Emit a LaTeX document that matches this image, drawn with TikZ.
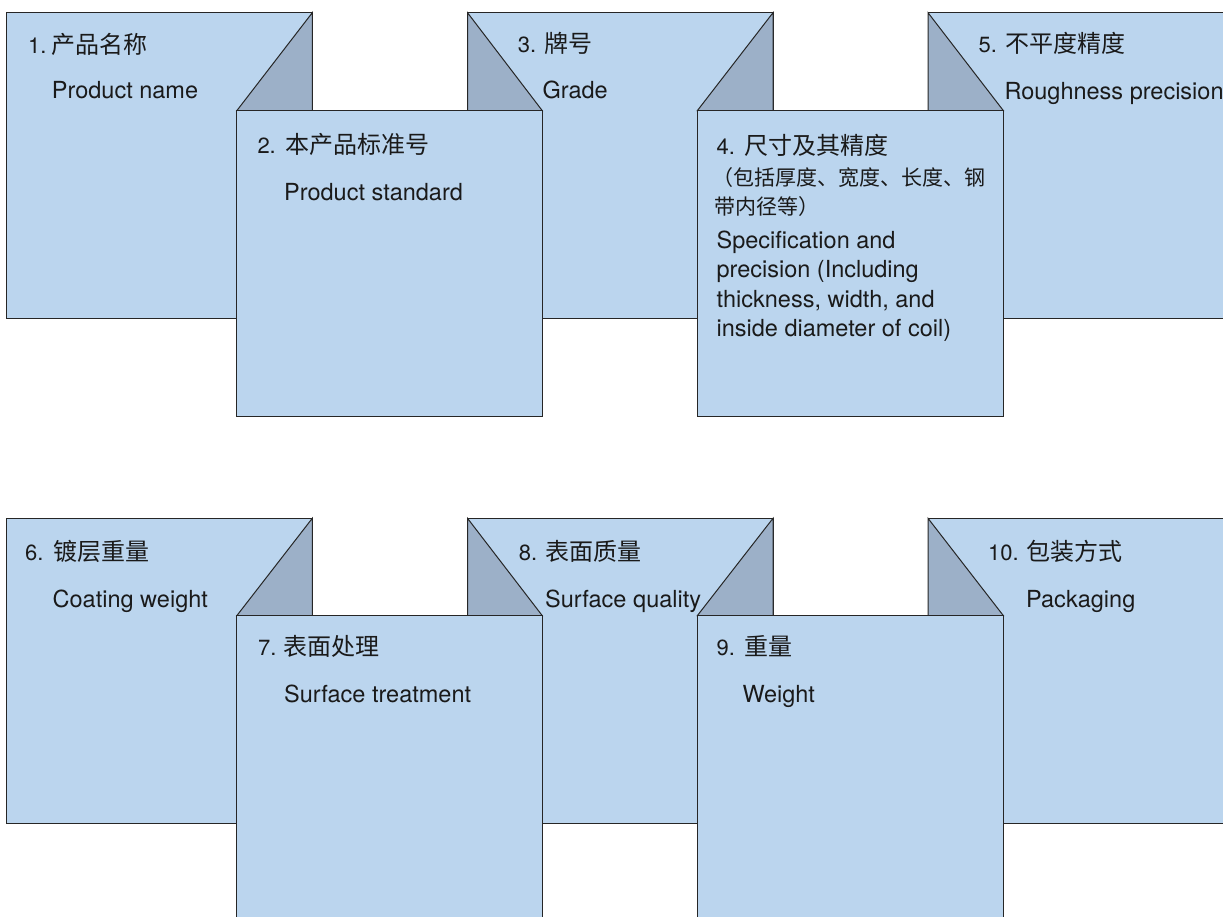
\documentclass[tikz,border=0pt]{standalone}
\usepackage{fontspec}
\setmainfont{TeX Gyre Heros}
\newfontfamily\cjk{Noto Sans CJK SC}
\definecolor{boxfill}{HTML}{BBD5EE}
\definecolor{foldfill}{HTML}{9CB0C8}
\definecolor{edge}{HTML}{262626}
\definecolor{ink}{HTML}{1A1A1A}
\begin{document}
\begin{tikzpicture}[x=1pt,y=-1pt,
  panel/.style={fill=boxfill,draw=edge,line width=1pt},
  fold/.style={fill=foldfill,draw=edge,line width=1pt,line join=miter},
  num/.style={anchor=base west,inner sep=0pt,text=ink,font=\fontsize{22}{26}\selectfont},
  zh/.style={anchor=base west,inner sep=0pt,text=ink,font=\cjk\fontsize{24}{28}\selectfont},
  zhs/.style={anchor=base west,inner sep=0pt,text=ink,font=\cjk\fontsize{21}{28}\selectfont},
  en/.style={anchor=base west,inner sep=0pt,text=ink,font=\fontsize{23.5}{29}\selectfont}]
\useasboundingbox (0,0) rectangle (1223,917);
\clip (0,0) rectangle (1223,917);
% ---------- top row: back panels ----------
\draw[panel] (6.5,12.7) rectangle (312.3,318);
\draw[fold] (312.3,12.7) -- (236.8,110.7) -- (312.3,110.7) -- cycle;
\draw[panel] (467.5,12.7) rectangle (773,318);
\draw[fold] (467.5,12.7) -- (542.3,110.7) -- (467.5,110.7) -- cycle;
\draw[fold] (773,12.7) -- (697.3,110.7) -- (773,110.7) -- cycle;
\draw[panel] (928,12.7) rectangle (1240,318);
\draw[fold] (928,12.7) -- (1003.4,110.7) -- (928,110.7) -- cycle;
% ---------- top row: front panels ----------
\draw[panel] (236.8,110.7) rectangle (542.3,416.7);
\draw[panel] (697.3,110.7) rectangle (1003.4,416.7);
% ---------- bottom row: back panels ----------
\draw[panel] (6.5,518.3) rectangle (312.3,823.3);
\draw[fold] (312.3,518.3) -- (236.8,615.7) -- (312.3,615.7) -- cycle;
\draw[panel] (467.5,518.3) rectangle (773,823.3);
\draw[fold] (467.5,518.3) -- (542.3,615.7) -- (467.5,615.7) -- cycle;
\draw[fold] (773,518.3) -- (697.3,615.7) -- (773,615.7) -- cycle;
\draw[panel] (928,518.3) rectangle (1240,823.3);
\draw[fold] (928,518.3) -- (1003.4,615.7) -- (928,615.7) -- cycle;
% ---------- bottom row: front panels ----------
\draw[panel] (236.8,615.7) rectangle (542.3,935);
\draw[panel] (697.3,615.7) rectangle (1003.4,935);
% ---------- texts: top row ----------
\node[num] (n1) at (28,53.5) {1.};
\node[zh]  (c1) at (51.7,53.5) {产品名称};
\node[en]  (e1) at (51.7,99) {Product name};
\node[num] (n2) at (257.3,154) {2.};
\node[zh]  (c2) at (285,154) {本产品标准号};
\node[en]  (e2) at (284,200.2) {Product standard};
\node[num] (n3) at (517.7,52.3) {3.};
\node[zh]  (c3) at (544.3,52.3) {牌号};
\node[en]  (e3) at (542.3,99) {Grade};
\node[num] (n4) at (716.4,155) {4.};
\node[zh]  (c4) at (744,155) {尺寸及其精度};
\node[zhs] (p4a) at (712,186) {（包括厚度、宽度、长度、钢};
\node[zhs] (p4b) at (714,214.5) {带内径等）};
\node[en]  (e4a) at (716.4,249) {Specification and};
\node[en]  (e4b) at (716.4,278) {precision (Including};
\node[en]  (e4c) at (716.4,307) {thickness, width, and};
\node[en]  (e4d) at (716.4,336) {inside diameter of coil)};
\node[num] (n5) at (978.5,52.6) {5.};
\node[zh]  (c5) at (1005.5,52.6) {不平度精度};
\node[en]  (e5) at (1004.4,99.5) {Roughness precision};
% ---------- texts: bottom row ----------
\node[num] (n6) at (25,560.7) {6.};
\node[zh]  (c6) at (53.6,560.7) {镀层重量};
\node[en]  (e6) at (52.5,607.8) {Coating weight};
\node[num] (n7) at (257.9,655.7) {7.};
\node[zh]  (c7) at (283,655.7) {表面处理};
\node[en]  (e7) at (284,702.5) {Surface treatment};
\node[num] (n8) at (518.6,560.7) {8.};
\node[zh]  (c8) at (545,560.7) {表面质量};
\node[en]  (e8) at (545,607.8) {Surface quality};
\node[num] (n9) at (716.4,655.7) {9.};
\node[zh]  (c9) at (744,655.7) {重量};
\node[en]  (e9) at (742.3,702.5) {Weight};
\node[num] (n10) at (988,560.7) {10.};
\node[zh]  (c10) at (1026,560.7) {包装方式};
\node[en]  (e10) at (1026,607.8) {Packaging};
\end{tikzpicture}
\end{document}
